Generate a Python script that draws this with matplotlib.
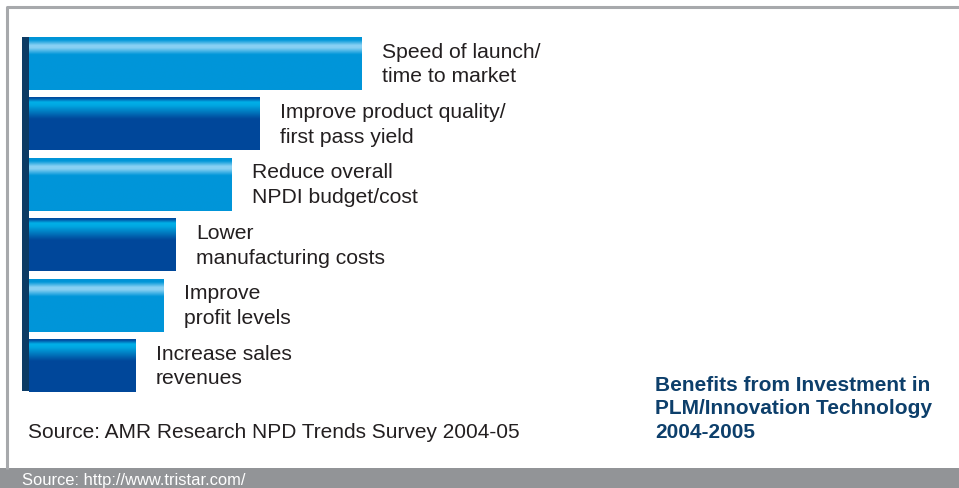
import numpy as np
import matplotlib.pyplot as plt
from matplotlib.colors import LinearSegmentedColormap

plt.rcParams["font.family"] = ["Liberation Sans", "DejaVu Sans"]

# bar lengths (arbitrary units, no axis shown)
benefits = [
    "Speed of launch/\ntime to market",
    "Improve product quality/\nfirst pass yield",
    "Reduce overall\nNPDI budget/cost",
    "Lower\nmanufacturing costs",
    "Improve\nprofit levels",
    "Increase sales\nrevenues",
]
scores = [66.6, 46.2, 40.6, 29.4, 27.0, 21.4]

title = "Benefits from Investment in\nPLM/Innovation Technology\n2004-2005"
survey_note = "Source: AMR Research NPD Trends Survey 2004-05"
footer = "Source: http://www.tristar.com/"

W, H = 959, 489
fig = plt.figure(figsize=(W / 100, H / 100), dpi=100)

# background layer in pixel coordinates for the frame and texts
bg = fig.add_axes([0, 0, 1, 1])
bg.set_xlim(0, W)
bg.set_ylim(H, 0)
bg.axis("off")
bg.plot([7, 7, W + 5], [470, 7.5, 7.5], color="#a7a9ac", lw=2.2, solid_capstyle="butt")
bg.fill_between([0, W], 469, H, color="#929497", lw=0)
bg.text(22, 480, footer, color="white", fontsize=11.9, va="center", ha="left")
bg.text(28, 432, survey_note, color="#231f20", fontsize=15, va="center", ha="left")
bg.text(655, 409, title, color="#0d3f6b", fontsize=15, fontweight="bold",
        va="center", ha="left", linespacing=1.3)

# bar axes: value 0 at x=29 px, 5 px per unit
px_per_unit = 5.0
x0 = 29
row_h = 60.4
top = 64.5 - row_h / 2
ax = fig.add_axes([x0 / W, 1 - (top + 6 * row_h) / H, (W - x0) / W, 6 * row_h / H])
ax.axis("off")
ax.patch.set_alpha(0)

light = LinearSegmentedColormap.from_list("light", [
    (0.0, "#0093d6"), (0.07, "#0096d8"), (0.17, "#8ad2f4"), (0.22, "#86cff2"),
    (0.34, "#0096d9"), (1.0, "#0095d9")])
dark = LinearSegmentedColormap.from_list("dark", [
    (0.0, "#00469a"), (0.04, "#0050a2"), (0.11, "#00b0e8"), (0.17, "#00a8e2"),
    (0.42, "#00489b"), (1.0, "#00479a")])

ys = np.arange(len(scores))
bars = ax.barh(ys, scores, height=0.88, color="none", lw=0)
grad = np.linspace(0, 1, 256).reshape(-1, 1)
for i, bar in enumerate(bars):
    cmap = light if i % 2 == 0 else dark
    x, y = bar.get_x(), bar.get_y()
    w, h = bar.get_width(), bar.get_height()
    im = ax.imshow(grad, cmap=cmap, aspect="auto", extent=[x, x + w, y + h, y],
                   interpolation="bilinear", zorder=2)
    im.set_clip_path(bar)
    ax.text(w + 20 / px_per_unit, ys[i], benefits[i], fontsize=15.2, color="#231f20",
            va="center", ha="left", linespacing=1.38)

ax.set_xlim(0, (W - x0) / px_per_unit)
ax.set_ylim(5.5, -0.5)

# dark vertical axis strip on the left of the bars
bg.fill_between([22, 29], 38, 392, color="#0c3b64", lw=0)

fig.savefig("out.png", dpi=100)
